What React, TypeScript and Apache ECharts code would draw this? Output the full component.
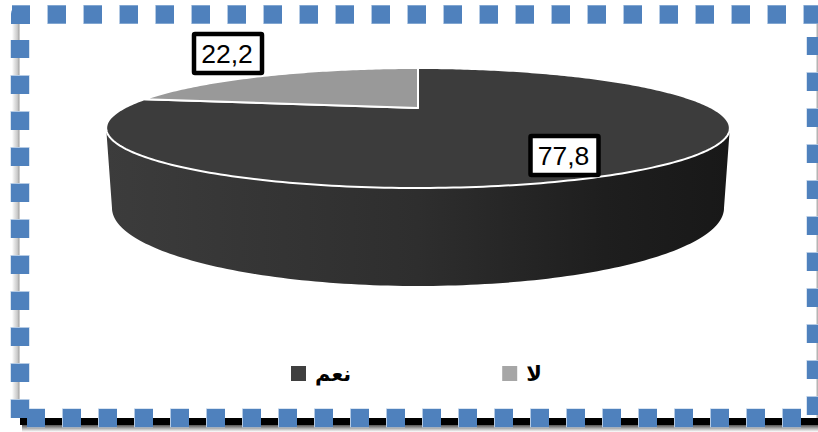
import React, { useEffect, useRef } from "react";
import * as echarts from "echarts";

// Survey answers, in percent
const answers = ["نعم", "لا"];
const shares = [77.8, 22.2];
const topColors = ["#3c3c3c", "#999999"];
const legendColors = ["#3f3f3f", "#a6a6a6"];

// Perspective disc: cy is where the disc centre lands on screen
const K = 1 / 3;
const CX = 418;
const topRing = { cy: 108, b: 53.33, a: 294 };
const baseRing = { cy: 182, b: 69.33, a: 288.5 };
const WALL_FROM = 109.47;
const WALL_TO = 250.53;

// Centres of the value boxes, one per answer
const boxCentres = [
  [564.5, 155.5],
  [228, 53.5],
];
const BOX_W = 68;
const BOX_H = 39;

type Ring = { cy: number; b: number; a: number };

function project(ring: Ring, deg: number): number[] {
  const t = (deg * Math.PI) / 180;
  const u = Math.sin(t);
  const w = Math.cos(t);
  const d = 1 + K * w;
  return [CX + (ring.a * u) / d, ring.cy - (ring.b * w) / d];
}

function sweep(ring: Ring, from: number, to: number): number[][] {
  const pts: number[][] = [];
  const n = Math.max(2, Math.ceil(Math.abs(to - from)));
  for (let i = 0; i <= n; i++) pts.push(project(ring, from + ((to - from) * i) / n));
  return pts;
}

function makeRenderItem(index: number) {
  return (_params: unknown, api: any) => {
    const total = shares.reduce((s, v) => s + v, 0);
    const before = shares.slice(0, index).reduce((s, v) => s + v, 0);
    const from = (before / total) * 360;
    const to = from + (api.value(0) / total) * 360;
    const children: any[] = [];

    const wallFrom = Math.max(from, WALL_FROM);
    const wallTo = Math.min(to, WALL_TO);
    if (wallTo > wallFrom) {
      children.push({
        type: "polygon",
        shape: {
          points: [...sweep(topRing, wallFrom, wallTo), ...sweep(baseRing, wallTo, wallFrom)],
        },
        style: {
          fill: new echarts.graphic.LinearGradient(0, 0, 1, 0, [
            { offset: 0, color: "#3c3c3c" },
            { offset: 0.5, color: "#2e2e2e" },
            { offset: 0.8, color: "#1e1e1e" },
            { offset: 1, color: "#181818" },
          ]),
        },
      });
    }

    children.push({
      type: "polygon",
      shape: { points: [[CX, topRing.cy], ...sweep(topRing, from, to)] },
      style: { fill: topColors[index], stroke: "#ffffff", lineWidth: 2, lineJoin: "round" },
    });

    const [bx, by] = boxCentres[index];
    children.push({
      type: "rect",
      shape: { x: bx - BOX_W / 2, y: by - BOX_H / 2, width: BOX_W, height: BOX_H, r: 1 },
      style: { fill: "#ffffff", stroke: "#000000", lineWidth: 4.5 },
      z2: 20,
    });
    children.push({
      type: "text",
      style: {
        text: String(api.value(0)).replace(".", ","),
        x: bx - 1,
        y: by,
        align: "center",
        verticalAlign: "middle",
        fill: "#000000",
        font: "26.5px 'Liberation Sans', Arial, sans-serif",
      },
      z2: 21,
    });
    return { type: "group", children };
  };
}

const BLUE = "#4f81bd";
const BLUE_FRINGE = "#b4cae4";

// One run of square dots: a paler, slightly larger run sits under the solid one
function dashedSide(x1: number, y1: number, x2: number, y2: number) {
  return [
    {
      type: "line",
      shape: { x1, y1, x2, y2 },
      style: { stroke: BLUE_FRINGE, lineWidth: 19, lineDash: [19, 17], lineDashOffset: 0.5 },
      z: 4,
    },
    {
      type: "line",
      shape: { x1, y1, x2, y2 },
      style: { stroke: BLUE, lineWidth: 18, lineDash: [18, 18] },
      z: 5,
    },
  ];
}

const frameGraphics: any[] = [
  // drop shadow below and beside the frame
  {
    type: "rect",
    shape: { x: 12, y: 22, width: 7.5, height: 388 },
    style: {
      fill: new echarts.graphic.LinearGradient(0, 0, 1, 0, [
        { offset: 0, color: "rgba(150,150,150,0)" },
        { offset: 0.7, color: "rgba(170,170,170,0.6)" },
        { offset: 1, color: "#9a9a9a" },
      ]),
    },
    z: 1,
  },
  {
    type: "rect",
    shape: { x: 816.5, y: 22, width: 1.5, height: 403 },
    style: { fill: "#b4b4b4" },
    z: 1,
  },
  {
    type: "rect",
    shape: { x: 22, y: 425, width: 796, height: 7 },
    style: {
      fill: new echarts.graphic.LinearGradient(0, 0, 0, 1, [
        { offset: 0, color: "#555555" },
        { offset: 0.6, color: "#c4c4c4" },
        { offset: 1, color: "#ffffff" },
      ]),
    },
    z: 1,
  },
  {
    type: "rect",
    shape: { x: 20, y: 418, width: 798, height: 7 },
    style: { fill: "#000000" },
    z: 2,
  },
  // square-dot frame, one run per side
  ...dashedSide(12, 14.5, 818, 14.5),
  ...dashedSide(20, 40, 20, 418),
  ...dashedSide(27, 418, 802, 418),
  ...dashedSide(816, 37, 816, 417),
  {
    type: "rect",
    shape: { x: 11, y: 6, width: 19, height: 18, r: [8, 0, 0, 0] },
    style: { fill: BLUE },
    z: 5,
  },
];

export default function App() {
  const ref = useRef<HTMLDivElement>(null);

  useEffect(() => {
    const chart = echarts.init(ref.current!, undefined, { renderer: "svg" });
    chart.setOption({
      animation: false,
      backgroundColor: "#ffffff",
      legend: {
        left: 291,
        top: 363,
        padding: 0,
        orient: "horizontal",
        itemWidth: 15,
        itemHeight: 15,
        itemGap: 151,
        selectedMode: false,
        data: answers.map((name, i) => ({
          name,
          icon: "rect",
          itemStyle: { color: legendColors[i] },
        })),
        textStyle: {
          color: "#000000",
          fontSize: 21,
          fontWeight: "bold",
          fontFamily: "'DejaVu Sans', sans-serif",
          padding: [0, 0, 0, 4],
        },
      },
      graphic: { elements: frameGraphics },
      series: answers.map((name, i) => ({
        type: "custom",
        name,
        coordinateSystem: "none",
        data: [[shares[i]]],
        itemStyle: { color: topColors[i] },
        renderItem: makeRenderItem(i),
        silent: true,
      })),
    });
    return () => chart.dispose();
  }, []);

  return (
    <div
      ref={ref}
      style={{ position: "fixed", left: 0, top: 0, width: 818, height: 432 }}
    />
  );
}
